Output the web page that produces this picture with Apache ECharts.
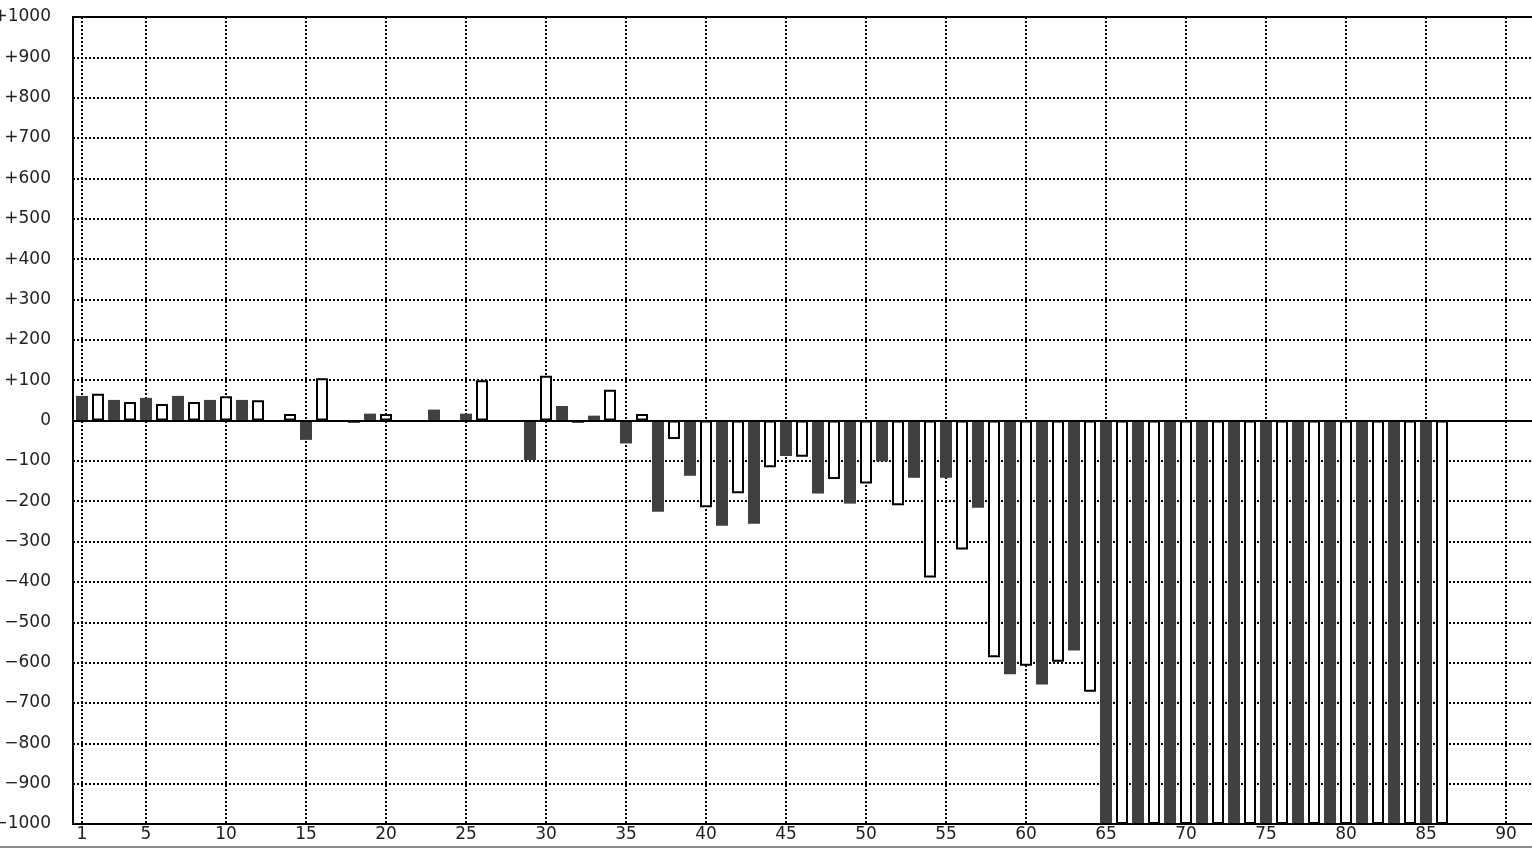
<!DOCTYPE html>
<html><head><meta charset="utf-8">
<script src="https://cdn.jsdelivr.net/npm/echarts@6/dist/echarts.min.js"></script>
<style>html,body{margin:0;padding:0;background:#fff;overflow:hidden}#c{width:1532px;height:848px}</style>
</head><body><div id="c"></div>
<script>
// Dark (filled) bars
const darkX = [1,3,5,7,9,11,15,18,19,23,25,29,31,32,33,35,37,39,41,43,45,47,49,51,53,55,57,59,61,63,65,67,69,71,73,75,77,79,81,83,85];
const darkY = [61,51,56,61,51,51,-48,-6,17,27,17,-98,36,-6,12,-57,-226,-137,-261,-256,-88,-181,-206,-101,-142,-142,-216,-629,-654,-570,-1000,-1000,-1000,-1000,-1000,-1000,-1000,-1000,-1000,-1000,-1000];
// White (outlined) bars
const whiteX = [2,4,6,8,10,12,14,16,20,26,30,34,36,38,40,42,44,46,48,50,52,54,56,58,60,62,64,66,68,70,72,74,76,78,80,82,84,86];
const whiteY = [66,46,41,46,60,50,16,105,16,100,111,76,16,-46,-215,-180,-116,-90,-145,-156,-210,-389,-320,-587,-608,-598,-672,-1000,-1000,-1000,-1000,-1000,-1000,-1000,-1000,-1000,-1000,-1000];
// Tick labels
const xTicks = [1,5,10,15,20,25,30,35,40,45,50,55,60,65,70,75,80,85,90];
const yMin = -1000, yMax = 1000, yStep = 100;

const pair = (xs, ys) => xs.map((x, i) => [x, ys[i]]);
const chart = echarts.init(document.getElementById('c'), null, {renderer: 'canvas'});
const dotted = {color: '#000', width: 2, type: [2, 2]};
const font = 'DejaVu Sans';
chart.setOption({
  animation: false,
  backgroundColor: '#fff',
  grid: {left: 73, top: 17, right: -20, bottom: 24, show: true, borderColor: '#000', borderWidth: 2,
    backgroundColor: 'transparent', outerBoundsMode: 'none', containLabel: false},
  xAxis: {
    type: 'value', min: 0.4375, max: 92.875,
    axisLine: {show: false},
    axisTick: {show: false, customValues: xTicks},
    axisLabel: {customValues: xTicks, color: '#222', fontSize: 17, fontFamily: font, margin: 2},
    splitLine: {show: true, lineStyle: dotted}
  },
  yAxis: {
    type: 'value', min: yMin, max: yMax, interval: yStep,
    axisLine: {show: false}, axisTick: {show: false},
    axisLabel: {color: '#222', fontSize: 17, fontFamily: font, margin: 22,
      formatter: v => v > 0 ? '+' + v : (v < 0 ? '\u2212' + Math.abs(v) : '0')},
    splitLine: {show: true, lineStyle: dotted}
  },
  graphic: [{type: 'rect', left: 0, bottom: 0, shape: {width: 1532, height: 2}, style: {fill: '#8c8c8c'}, z: 10}],
  series: [
    {
      type: 'bar', name: 'dark', data: pair(darkX, darkY), barWidth: 12, barGap: '-100%',
      itemStyle: {color: '#404040'},
      markLine: {silent: true, symbol: 'none', label: {show: false},
        lineStyle: {color: '#000', width: 2, type: 'solid'},
        data: [{yAxis: 0}, {yAxis: yMin}]}
    },
    {
      type: 'bar', name: 'white', data: pair(whiteX, whiteY), barWidth: 12, barGap: '-100%',
      itemStyle: {color: '#fff', borderColor: '#000', borderWidth: 2}
    }
  ]
});
</script></body></html>
